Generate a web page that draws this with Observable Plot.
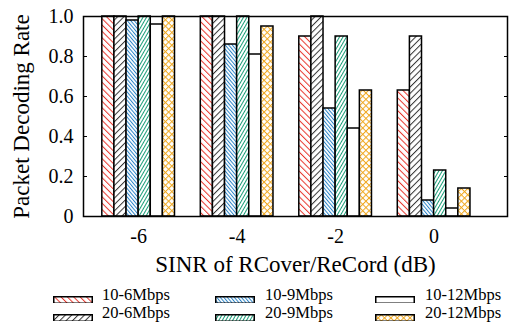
<!DOCTYPE html>
<html>
<head>
<meta charset="utf-8">
<script src="https://cdn.jsdelivr.net/npm/d3@7"></script>
<script src="https://cdn.jsdelivr.net/npm/@observablehq/plot@0.6"></script>
<style>
  html, body { margin: 0; padding: 0; background: #fff; }
  #wrap { width: 514px; height: 322px; position: relative; font-family: "Liberation Serif", "Times New Roman", serif; }
  #legend { position: relative; width: 514px; height: 36px; }
  .sw { position: absolute; width: 40px; height: 7px; }
  .lt { position: absolute; font-size: 16.5px; line-height: 16.5px; height: 16.5px; white-space: nowrap; color: #000; }
</style>
</head>
<body>
<svg width="0" height="0" style="position:absolute">
  <defs>
    <pattern id="pRed" patternUnits="userSpaceOnUse" width="4.5" height="4.5" patternTransform="rotate(-45)">
      <rect width="4.5" height="4.5" fill="#fff"/><line x1="0.5" y1="0" x2="0.5" y2="4.5" stroke="#e8352c" stroke-width="1"/>
    </pattern>
    <pattern id="pBlack" patternUnits="userSpaceOnUse" width="4.5" height="4.5" patternTransform="rotate(45)">
      <rect width="4.5" height="4.5" fill="#fff"/><line x1="0.5" y1="0" x2="0.5" y2="4.5" stroke="#333" stroke-width="1"/>
    </pattern>
    <pattern id="pBlue" patternUnits="userSpaceOnUse" width="2.7" height="2.7" patternTransform="rotate(-40)">
      <rect width="2.7" height="2.7" fill="#fff"/><line x1="0.5" y1="0" x2="0.5" y2="2.7" stroke="#2a84c8" stroke-width="1"/>
    </pattern>
    <pattern id="pGreen" patternUnits="userSpaceOnUse" width="3" height="3" patternTransform="rotate(30)">
      <rect width="3" height="3" fill="#fff"/><line x1="0.5" y1="0" x2="0.5" y2="3" stroke="#1a9e78" stroke-width="1"/>
    </pattern>
    <pattern id="pWhite" patternUnits="userSpaceOnUse" width="4" height="4">
      <rect width="4" height="4" fill="#fff"/>
    </pattern>
    <pattern id="pYellow" patternUnits="userSpaceOnUse" width="4.5" height="4.5" patternTransform="rotate(45)">
      <rect width="4.5" height="4.5" fill="#fff"/>
      <line x1="0.5" y1="0" x2="0.5" y2="4.5" stroke="#f0a820" stroke-width="1"/>
      <line x1="0" y1="0.5" x2="4.5" y2="0.5" stroke="#f0a820" stroke-width="1"/>
    </pattern>
  </defs>
</svg>
<div id="wrap">
  <div id="chart"></div>
  <div id="legend"></div>
</div>
<script>
// ---- data ----
const sinr = [-6, -4, -2, 0];
const seriesNames = ["10-6Mbps", "20-6Mbps", "10-9Mbps", "20-9Mbps", "10-12Mbps", "20-12Mbps"];
const r10_6  = [1.00, 1.00, 0.90, 0.63];
const r20_6  = [1.00, 1.00, 1.00, 0.90];
const r10_9  = [0.98, 0.86, 0.54, 0.08];
const r20_9  = [1.00, 1.00, 0.90, 0.23];
const r10_12 = [0.96, 0.81, 0.44, 0.04];
const r20_12 = [1.00, 0.95, 0.63, 0.14];
const yTicks = [0, 0.2, 0.4, 0.6, 0.8, 1.0];
const xLabel = "SINR of RCover/ReCord (dB)";
const yLabel = "Packet Decoding Rate";

const seriesValues = [r10_6, r20_6, r10_9, r20_9, r10_12, r20_12];
const fills = ["url(#pRed)", "url(#pBlack)", "url(#pBlue)", "url(#pGreen)", "url(#pWhite)", "url(#pYellow)"];
const barW = 0.246; // bar width in dB units

const rows = [];
seriesValues.forEach((vals, k) => {
  vals.forEach((v, i) => {
    rows.push({series: seriesNames[k], k, sinr: sinr[i], v});
  });
});

const chart = Plot.plot({
  width: 514,
  height: 286,
  marginLeft: 83,
  marginRight: 7,
  marginTop: 16,
  marginBottom: 70,
  style: {fontFamily: "Liberation Serif, Times New Roman, serif", fontSize: "20px", color: "#000", background: "#fff", overflow: "visible"},
  x: {domain: [-7.12, 1.49]},
  y: {domain: [0, 1]},
  marks: [
    Plot.rectY(rows, {
      x1: d => d.sinr + (d.k - 3) * barW,
      x2: d => d.sinr + (d.k - 2) * barW,
      y1: 0,
      y2: "v",
      fill: d => fills[d.k],
      stroke: "#000",
      strokeWidth: 1.5
    }),
    Plot.frame({stroke: "#000", strokeWidth: 1.5}),
    Plot.axisX({ticks: sinr, tickSize: 0, tickPadding: 12, tickFormat: d => String(d), fontSize: 20, label: null}),
    Plot.axisY({anchor: "left", ticks: yTicks, tickSize: -4, tickPadding: 14, strokeWidth: 1,
      tickFormat: d => d === 0 ? "0" : d.toFixed(1), fontSize: 20, label: null}),
    Plot.axisY({anchor: "right", ticks: yTicks, tickSize: -4, strokeWidth: 1, tickFormat: () => "", label: null}),
    Plot.text([xLabel], {frameAnchor: "bottom", dy: 55, fontSize: 23, lineAnchor: "bottom", textAnchor: "middle"}),
    Plot.text([yLabel], {frameAnchor: "left", dx: -62, rotate: -90, fontSize: 23, textAnchor: "middle", lineAnchor: "middle"})
  ]
});
document.getElementById("chart").appendChild(chart);

// ---- legend ----
const legend = document.getElementById("legend");
const swLeft = [53, 215, 375];
const txLeft = [102, 265, 425];
const pitch = 18.5;
seriesNames.forEach((name, k) => {
  const c = Math.floor(k / 2), r = k % 2;
  const sw = document.createElementNS("http://www.w3.org/2000/svg", "svg");
  sw.setAttribute("class", "sw");
  sw.setAttribute("width", 40); sw.setAttribute("height", 8);
  sw.style.left = swLeft[c] + "px";
  sw.style.top = (9.5 + pitch * r) + "px";
  const rect = document.createElementNS("http://www.w3.org/2000/svg", "rect");
  rect.setAttribute("x", 0.75); rect.setAttribute("y", 0.75);
  rect.setAttribute("width", 38.5); rect.setAttribute("height", 6.5);
  rect.setAttribute("fill", fills[k]);
  rect.setAttribute("stroke", "#000");
  rect.setAttribute("stroke-width", 1.5);
  sw.appendChild(rect);
  legend.appendChild(sw);
  const t = document.createElement("div");
  t.className = "lt";
  t.textContent = name;
  t.style.left = txLeft[c] + "px";
  t.style.top = (0.8 + pitch * r) + "px";
  legend.appendChild(t);
});
</script>
</body>
</html>
